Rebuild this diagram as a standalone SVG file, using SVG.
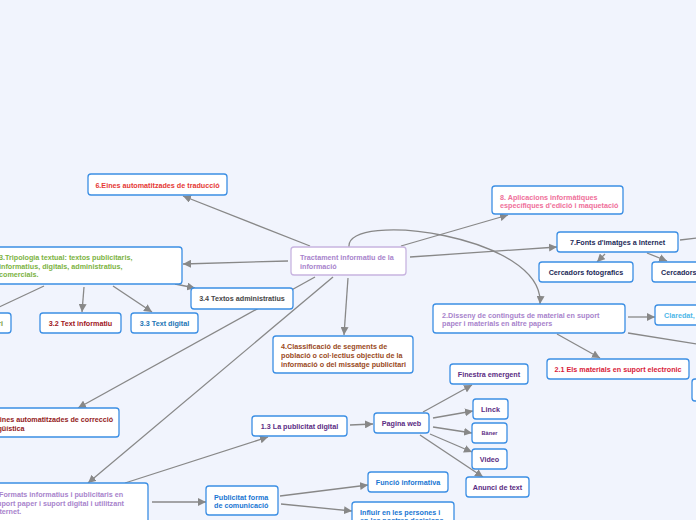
<svg xmlns="http://www.w3.org/2000/svg" width="696" height="520" viewBox="0 0 696 520">
<defs>
<marker id="ar" markerUnits="userSpaceOnUse" markerWidth="9" markerHeight="8" refX="8" refY="4" orient="auto">
<path d="M0,0 L8,4 L0,8 z" fill="#888"/>
</marker>
<style>
.n{fill:#fff;stroke:#3b8ee4;stroke-width:1.3}
.c{fill:#fff;stroke:#c8b4e0;stroke-width:1.3}
.t{font-family:"Liberation Sans",Arial,sans-serif;font-weight:bold;font-size:7.2px}
.m{text-anchor:middle}
.e{fill:none;stroke:#888;stroke-width:1.3}
.a{marker-end:url(#ar)}
</style>
</defs>
<rect width="696" height="520" fill="#f1f4fd"/>
<g id="connectors">
<line class="e a" x1="310" y1="246" x2="183" y2="196"/>
<line class="e a" x1="288" y1="261" x2="183" y2="264"/>
<line class="e a" x1="175" y1="284" x2="195" y2="288"/>
<line class="e a" x1="84" y1="287" x2="82" y2="312"/>
<line class="e a" x1="113" y1="286" x2="152" y2="312"/>
<line class="e" x1="44" y1="286" x2="-5" y2="309"/>
<line class="e a" x1="401" y1="246" x2="508" y2="215"/>
<line class="e a" x1="410" y1="257" x2="557" y2="247"/>
<path class="e a" d="M349,247 C345,210 545,235 540,304"/>
<line class="e a" x1="348" y1="278" x2="344" y2="335"/>
<line class="e a" x1="315" y1="277" x2="78" y2="408"/>
<line class="e a" x1="333" y1="277" x2="88" y2="483"/>
<line class="e a" x1="125" y1="483" x2="268" y2="437"/>
<line class="e a" x1="152" y1="502" x2="206" y2="502"/>
<line class="e a" x1="350" y1="425" x2="373" y2="424"/>
<line class="e a" x1="423" y1="412" x2="472" y2="385"/>
<line class="e a" x1="433" y1="418" x2="473" y2="411"/>
<line class="e a" x1="433" y1="427" x2="472" y2="433"/>
<line class="e a" x1="430" y1="434" x2="472" y2="452"/>
<line class="e a" x1="420" y1="435" x2="483" y2="477"/>
<line class="e a" x1="280" y1="496" x2="368" y2="485"/>
<line class="e a" x1="281" y1="504" x2="352" y2="511"/>
<line class="e a" x1="605" y1="254" x2="597" y2="262"/>
<line class="e a" x1="647" y1="253" x2="667" y2="261"/>
<line class="e" x1="680" y1="240" x2="697" y2="238"/>
<line class="e a" x1="628" y1="317" x2="655" y2="317"/>
<line class="e a" x1="557" y1="334" x2="600" y2="358"/>
<line class="e" x1="628" y1="333" x2="697" y2="344"/>
</g>
<g id="central">
<rect class="c" x="291" y="247" width="115" height="28" rx="3"/>
<text class="t" fill="#a883cc" x="300" y="260">Tractament informatiu de la<tspan x="300" y="268.5">informació</tspan></text>
</g>
<g id="n6">
<rect class="n" x="88" y="174" width="139" height="21" rx="3"/>
<text class="t m" fill="#e53935" x="157.5" y="187.5">6.Eines automatitzades de traducció</text>
</g>
<g id="n3">
<rect class="n" x="-10" y="247" width="192" height="37" rx="3"/>
<text class="t" fill="#7cb342" x="-1" y="260">3.Tripologia textual: textos publicitaris,<tspan x="-1" y="268.5">informatius, digitals, administratius,</tspan><tspan x="-1" y="277">comercials.</tspan></text>
</g>
<g id="n34">
<rect class="n" x="191" y="288" width="102" height="21" rx="3"/>
<text class="t m" fill="#474747" x="242" y="301">3.4 Textos administratius</text>
</g>
<g id="n32">
<rect class="n" x="40" y="313" width="81" height="20" rx="3"/>
<text class="t m" fill="#a0151b" x="80.5" y="325.5">3.2 Text informatiu</text>
</g>
<g id="n33">
<rect class="n" x="131" y="313" width="67" height="20" rx="3"/>
<text class="t m" fill="#2175b5" x="164.5" y="325.5">3.3 Text digital</text>
</g>
<g id="n31">
<rect class="n" x="-70" y="313" width="81" height="20" rx="3"/>
<text class="t" fill="#7a9a3a" x="3" y="325.5" text-anchor="end">3.1 Text publicitari</text>
</g>
<g id="n8">
<rect class="n" x="492" y="186" width="131" height="28" rx="3"/>
<text class="t" fill="#ef6f9a" x="500" y="199.5">8. Aplicacions informàtiques<tspan x="500" y="207.5">específiques d'edició i maquetació</tspan></text>
</g>
<g id="n7">
<rect class="n" x="557" y="232" width="121" height="20" rx="3"/>
<text class="t m" fill="#1c2a57" x="617.5" y="244.5">7.Fonts d'imatges a Internet</text>
</g>
<g id="n7a">
<rect class="n" x="539" y="262" width="94" height="20" rx="3"/>
<text class="t m" fill="#1c2a57" x="586" y="274.5">Cercadors fotografics</text>
</g>
<g id="n7b">
<rect class="n" x="652" y="262" width="80" height="20" rx="3"/>
<text class="t" fill="#1c2a57" x="661" y="274.5">Cercadors</text>
</g>
<g id="n2">
<rect class="n" x="433" y="304" width="192" height="29" rx="3"/>
<text class="t" fill="#a883cc" x="442" y="317.5">2.Disseny de continguts de material en suport<tspan x="442" y="325.5">paper i materials en altre papers</tspan></text>
</g>
<g id="n2a">
<rect class="n" x="655" y="305" width="60" height="20" rx="3"/>
<text class="t" fill="#4fb8e8" x="664" y="317.5">Claredat,</text>
</g>
<g id="n21">
<rect class="n" x="547" y="359" width="142" height="20" rx="3"/>
<text class="t m" fill="#d81b3a" x="618" y="371.5">2.1 Els materials en suport electronic</text>
</g>
<g id="n2b">
<rect class="n" x="692" y="379" width="40" height="22" rx="3"/>
</g>
<g id="n4">
<rect class="n" x="273" y="336" width="140" height="37" rx="3"/>
<text class="t" fill="#9a4a1c" x="281" y="348.5">4.Classificació de segments de<tspan x="281" y="357.5">població o col·lectius objectiu de la</tspan><tspan x="281" y="366.5">informació o del missatge publicitari</tspan></text>
</g>
<g id="n5">
<rect class="n" x="-10" y="408" width="129" height="29" rx="3"/>
<text class="t" fill="#941b1b" x="-11" y="421.5">5.Eines automatitzades de correcció<tspan x="-11" y="430.5">lingüística</tspan></text>
</g>
<g id="n1">
<rect class="n" x="-10" y="483" width="158" height="42" rx="3"/>
<text class="t" fill="#a883cc" x="-7" y="496.5">1.Formats informatius i publicitaris en<tspan x="-7" y="505.5">suport paper i suport digital i utilitzant</tspan><tspan x="-7" y="514">Internet.</tspan></text>
</g>
<g id="n13">
<rect class="n" x="252" y="416" width="95" height="20" rx="3"/>
<text class="t m" fill="#5b2c83" x="299.5" y="428.5">1.3 La publicitat digital</text>
</g>
<g id="npw">
<rect class="n" x="374" y="413" width="55" height="20" rx="3"/>
<text class="t m" fill="#5b2c83" x="401.5" y="425.5">Pagina web</text>
</g>
<g id="nfe">
<rect class="n" x="450" y="364" width="78" height="20" rx="3"/>
<text class="t m" fill="#5b2c83" x="489" y="376.5">Finestra emergent</text>
</g>
<g id="nli">
<rect class="n" x="473" y="399" width="35" height="20" rx="3"/>
<text class="t m" fill="#5b2c83" x="490.5" y="411.5">Linck</text>
</g>
<g id="nba">
<rect class="n" x="472" y="423" width="35" height="20" rx="3"/>
<text class="t m" fill="#5b2c83" x="489.5" y="435" style="font-size:5.6px">Bàner</text>
</g>
<g id="nvi">
<rect class="n" x="472" y="449" width="35" height="20" rx="3"/>
<text class="t m" fill="#5b2c83" x="489.5" y="461.5">Video</text>
</g>
<g id="nat">
<rect class="n" x="466" y="477" width="63" height="20" rx="3"/>
<text class="t m" fill="#5b2c83" x="497.5" y="489.5">Anunci de text</text>
</g>
<g id="npf">
<rect class="n" x="206" y="486" width="72" height="29" rx="3"/>
<text class="t" fill="#1976d2" x="214" y="499.5">Publicitat forma<tspan x="214" y="507.5">de comunicació</tspan></text>
</g>
<g id="nfi">
<rect class="n" x="368" y="472" width="80" height="20" rx="3"/>
<text class="t m" fill="#1976d2" x="408" y="484.5">Funció informativa</text>
</g>
<g id="nin">
<rect class="n" x="352" y="502" width="102" height="30" rx="3"/>
<text class="t" fill="#1976d2" x="360" y="514.5">Influir en les persones i<tspan x="360" y="523">en les nostres decisions</tspan></text>
</g>
</svg>
